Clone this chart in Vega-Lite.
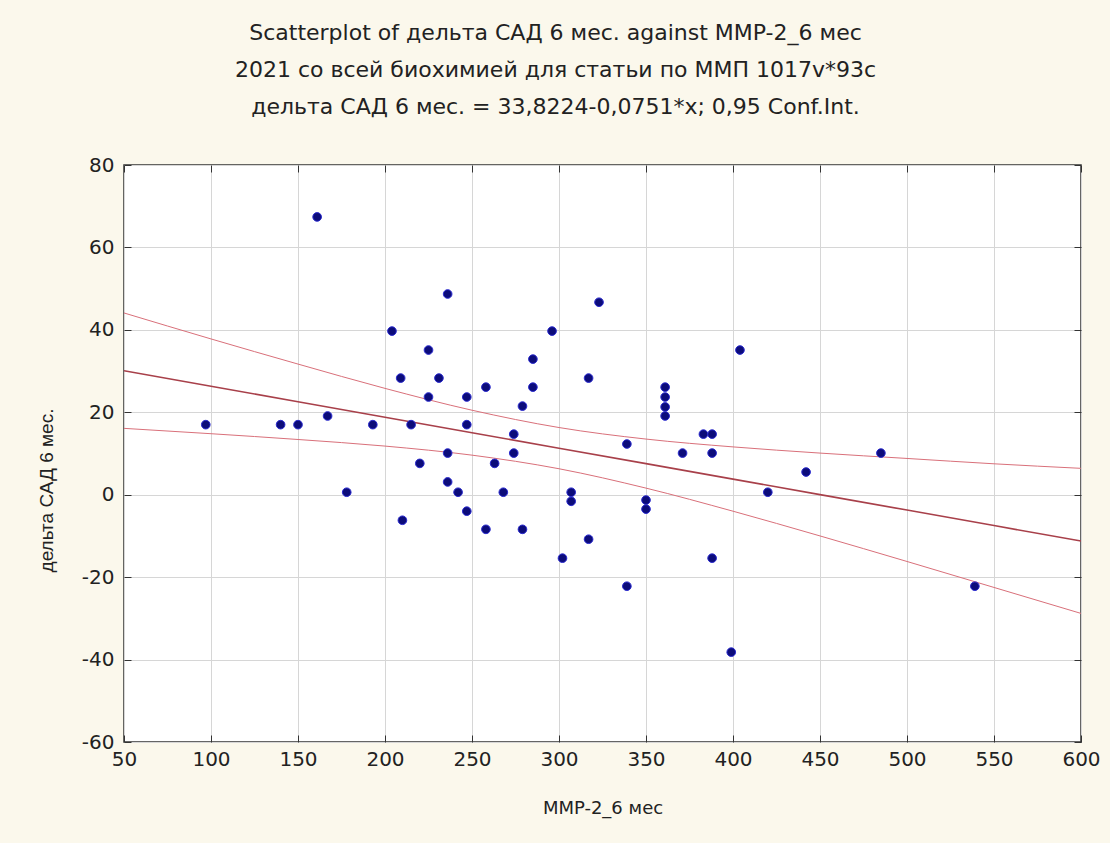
{
  "$schema": "https://vega.github.io/schema/vega-lite/v6.json",
  "width": 957,
  "height": 577,
  "autosize": {"type": "none"},
  "padding": {"left": 124, "top": 165, "right": 29, "bottom": 101},
  "background": "#fbf8ec",
  "config": {
    "view": {"fill": "white", "stroke": "#333333", "strokeWidth": 1.5},
    "font": "Liberation Sans"
  },
  "title": {
    "text": ["Scatterplot of дельта САД 6 мес. against MMP-2_6 мес", "2021 со всей биохимией для статьи по ММП 1017v*93c", "дельта САД 6 мес. = 33,8224-0,0751*x; 0,95 Conf.Int."],
    "font": "DejaVu Sans",
    "fontSize": 22,
    "fontWeight": "normal",
    "color": "#222222",
    "lineHeight": 37,
    "anchor": "middle",
    "dx": -47,
    "offset": 36
  },
  "datasets": {
    "points": [
      {"mmp": 97, "dsad": 17}, {"mmp": 140, "dsad": 17}, {"mmp": 150, "dsad": 17}, {"mmp": 161, "dsad": 67.4},
      {"mmp": 167, "dsad": 19.1}, {"mmp": 178, "dsad": 0.6}, {"mmp": 193, "dsad": 17}, {"mmp": 204, "dsad": 39.7},
      {"mmp": 209, "dsad": 28.3}, {"mmp": 210, "dsad": -6.2}, {"mmp": 215, "dsad": 17}, {"mmp": 220, "dsad": 7.6},
      {"mmp": 225, "dsad": 35.1}, {"mmp": 225, "dsad": 23.7}, {"mmp": 231, "dsad": 28.3}, {"mmp": 236, "dsad": 48.7},
      {"mmp": 236, "dsad": 10.1}, {"mmp": 236, "dsad": 3.1}, {"mmp": 242, "dsad": 0.6}, {"mmp": 247, "dsad": 23.7},
      {"mmp": 247, "dsad": 17}, {"mmp": 247, "dsad": -4}, {"mmp": 258, "dsad": 26.1}, {"mmp": 258, "dsad": -8.4},
      {"mmp": 263, "dsad": 7.6}, {"mmp": 268, "dsad": 0.6}, {"mmp": 274, "dsad": 14.7}, {"mmp": 274, "dsad": 10.1},
      {"mmp": 279, "dsad": 21.5}, {"mmp": 279, "dsad": -8.4}, {"mmp": 285, "dsad": 26.1}, {"mmp": 285, "dsad": 32.9},
      {"mmp": 296, "dsad": 39.7}, {"mmp": 302, "dsad": -15.4}, {"mmp": 307, "dsad": 0.6}, {"mmp": 307, "dsad": -1.6},
      {"mmp": 317, "dsad": 28.3}, {"mmp": 317, "dsad": -10.8}, {"mmp": 323, "dsad": 46.7}, {"mmp": 339, "dsad": 12.3},
      {"mmp": 339, "dsad": -22.2}, {"mmp": 350, "dsad": -1.3}, {"mmp": 350, "dsad": -3.5}, {"mmp": 361, "dsad": 26.1},
      {"mmp": 361, "dsad": 23.7}, {"mmp": 361, "dsad": 21.3}, {"mmp": 361, "dsad": 19.1}, {"mmp": 371, "dsad": 10.1},
      {"mmp": 383, "dsad": 14.7}, {"mmp": 388, "dsad": 14.7}, {"mmp": 388, "dsad": 10.1}, {"mmp": 388, "dsad": -15.4},
      {"mmp": 399, "dsad": -38.2}, {"mmp": 404, "dsad": 35.1}, {"mmp": 420, "dsad": 0.6}, {"mmp": 442, "dsad": 5.5},
      {"mmp": 485, "dsad": 10.1}, {"mmp": 539, "dsad": -22.2}
    ],
    "lines": [
      {"x": 50, "fit": 30.07, "lower": 16.1, "upper": 44.1},
      {"x": 100, "fit": 26.31, "lower": 14.8, "upper": 37.8},
      {"x": 150, "fit": 22.56, "lower": 13.4, "upper": 31.7},
      {"x": 200, "fit": 18.8, "lower": 11.8, "upper": 25.8},
      {"x": 250, "fit": 15.05, "lower": 9.6, "upper": 20.5},
      {"x": 300, "fit": 11.29, "lower": 6.3, "upper": 16.3},
      {"x": 350, "fit": 7.54, "lower": 1.6, "upper": 13.5},
      {"x": 400, "fit": 3.78, "lower": -4.0, "upper": 11.6},
      {"x": 450, "fit": 0.03, "lower": -10.0, "upper": 10.1},
      {"x": 500, "fit": -3.73, "lower": -16.2, "upper": 8.8},
      {"x": 550, "fit": -7.48, "lower": -22.5, "upper": 7.5},
      {"x": 600, "fit": -11.24, "lower": -28.8, "upper": 6.4}
    ]
  },
  "resolve": {"axis": {"x": "independent", "y": "independent"}},
  "layer": [
    {
      "data": {"name": "lines"},
      "layer": [
        {
          "mark": {"type": "line", "color": "#d9707a", "strokeWidth": 1, "interpolate": "monotone", "clip": true},
          "encoding": {
            "x": {"field": "x", "type": "quantitative"},
            "y": {"field": "upper", "type": "quantitative"}
          }
        },
        {
          "mark": {"type": "line", "color": "#d9707a", "strokeWidth": 1, "interpolate": "monotone", "clip": true},
          "encoding": {
            "x": {"field": "x", "type": "quantitative"},
            "y": {"field": "lower", "type": "quantitative"}
          }
        },
        {
          "mark": {"type": "line", "color": "#a8404a", "strokeWidth": 1.6, "clip": true},
          "encoding": {
            "x": {"field": "x", "type": "quantitative"},
            "y": {"field": "fit", "type": "quantitative"}
          }
        }
      ],
      "encoding": {
        "x": {
          "field": "x", "type": "quantitative",
          "scale": {"domain": [50, 600], "nice": false, "zero": false},
          "axis": {"orient": "top", "labels": false, "title": null, "grid": false, "domain": false, "tickSize": -7, "tickColor": "#333333", "values": [50,100,150,200,250,300,350,400,450,500,550,600]}
        },
        "y": {
          "field": "fit", "type": "quantitative",
          "scale": {"domain": [-60, 80], "nice": false, "zero": false},
          "axis": {"orient": "right", "labels": false, "title": null, "grid": false, "domain": false, "tickSize": -7, "tickColor": "#333333", "values": [-60,-40,-20,0,20,40,60,80]}
        }
      }
    },
    {
      "data": {"name": "points"},
      "mark": {"type": "point", "shape": "circle", "filled": true, "size": 75, "fill": "#0c0c7a", "stroke": "#2a2ad0", "strokeWidth": 1, "opacity": 1},
      "encoding": {
        "x": {
          "field": "mmp", "type": "quantitative",
          "scale": {"domain": [50, 600], "nice": false, "zero": false},
          "axis": {
            "title": "MMP-2_6 мес", "titleFontSize": 18, "titleFontWeight": "normal", "titleColor": "#222222", "titleFont": "DejaVu Sans", "titlePadding": 30,
            "values": [50,100,150,200,250,300,350,400,450,500,550,600],
            "labelFontSize": 20, "labelColor": "#222222", "labelFont": "DejaVu Sans", "labelPadding": 14, "labelFlush": false,
            "tickSize": -7, "tickColor": "#333333", "domain": false,
            "grid": true, "gridColor": "#d6d6d6", "gridWidth": 1
          }
        },
        "y": {
          "field": "dsad", "type": "quantitative",
          "scale": {"domain": [-60, 80], "nice": false, "zero": false},
          "axis": {
            "title": "дельта САД  6 мес.", "titleFontSize": 19, "titleFontWeight": "normal", "titleColor": "#222222", "titleFont": "Liberation Sans",
            "titleX": -68, "titleY": 325, "titleAngle": -90, "titleBaseline": "bottom",
            "values": [-60,-40,-20,0,20,40,60,80],
            "labelExpr": "datum.value < 0 ? '-' + abs(datum.value) : '' + datum.value",
            "labelFontSize": 20, "labelColor": "#222222", "labelFont": "DejaVu Sans", "labelPadding": 17, "labelFlush": false,
            "tickSize": -7, "tickColor": "#333333", "domain": false,
            "grid": true, "gridColor": "#d6d6d6", "gridWidth": 1
          }
        }
      }
    }
  ]
}
